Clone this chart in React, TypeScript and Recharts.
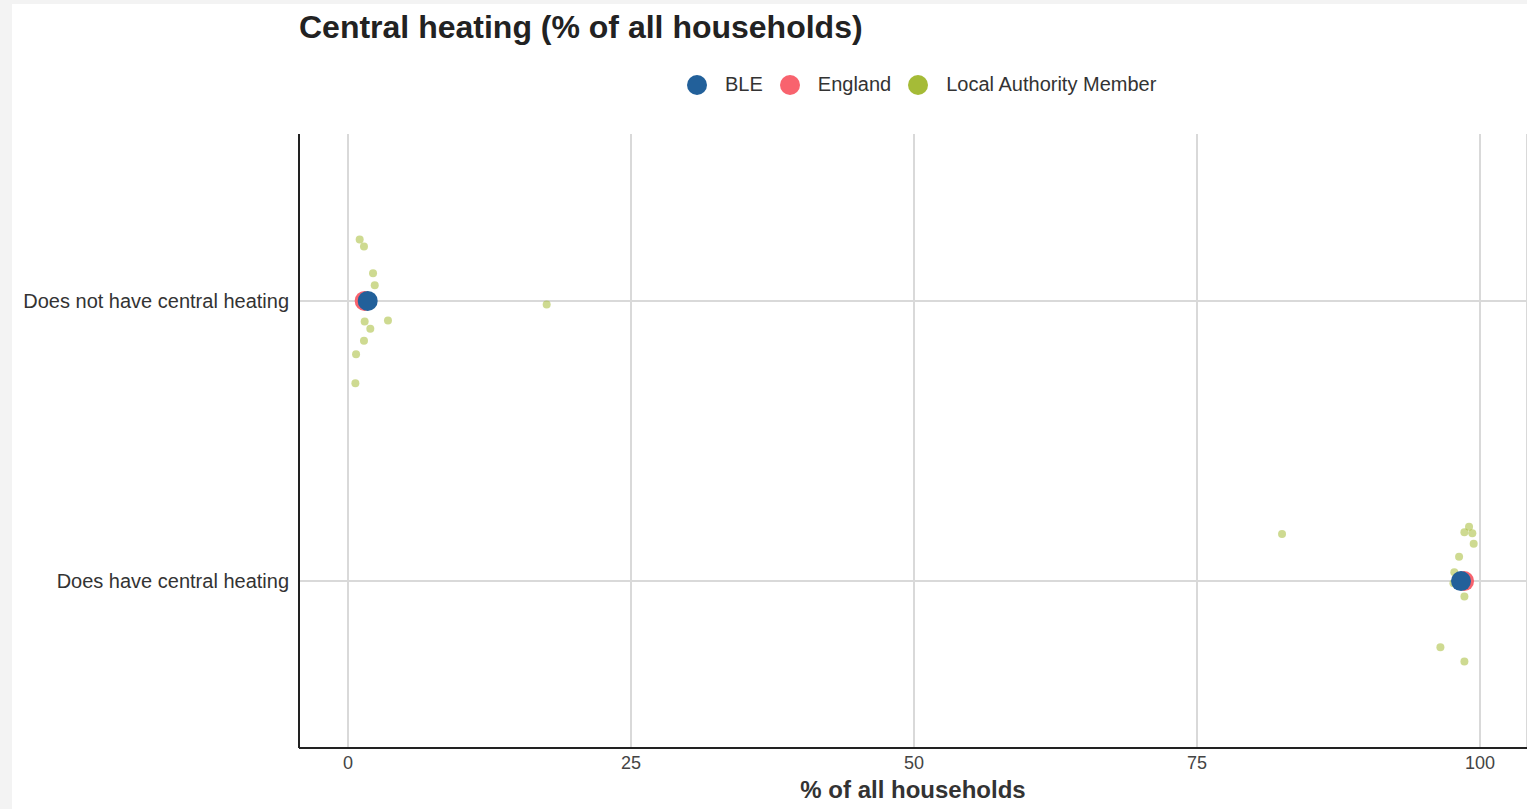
import {
  ScatterChart,
  Scatter,
  XAxis,
  YAxis,
  CartesianGrid,
} from 'recharts'

// y categories, top to bottom
const categories = ['Does not have central heating', 'Does have central heating']
const xTicks = [0, 25, 50, 75, 100]
const yTicks = [0, 1]
const yDomain = [-0.596, 1.596]

// local authority members, % of households (jitter in category units, + = down)
const memberNone = [1.03, 1.41, 2.21, 2.36, 17.55, 1.47, 3.53, 1.97, 1.41, 0.71, 0.65]
const memberNoneJitter = [-0.219, -0.194, -0.099, -0.056, 0.013, 0.073, 0.07, 0.099, 0.142, 0.19, 0.294]
const memberHas = [82.51, 99.03, 98.62, 99.32, 99.44, 98.15, 97.73, 97.65, 98.62, 96.5, 98.62]
const memberHasJitter = [-0.168, -0.194, -0.174, -0.171, -0.133, -0.087, -0.031, 0.008, 0.055, 0.236, 0.287]

const ble = [1.74, 98.32]
const england = [1.47, 98.59]

const series = [
  { name: 'BLE', color: '#22609a' },
  { name: 'England', color: '#f8636e' },
  { name: 'Local Authority Member', color: '#a5bb37' },
]

const FONT = '"Liberation Sans", Arial, sans-serif'

const memberData = [
  ...memberNone.map((v, i) => ({ x: v, y: 0 + memberNoneJitter[i] })),
  ...memberHas.map((v, i) => ({ x: v, y: 1 + memberHasJitter[i] })),
]
const bleData = ble.map((v, i) => ({ x: v, y: i }))
const englandData = england.map((v, i) => ({ x: v, y: i }))

const dot = (r: number, color: string, opacity: number) => (props: any) => (
  <circle cx={props.cx} cy={props.cy} r={r} fill={color} fillOpacity={opacity} />
)

// only draw horizontal grid lines at the two categories (axis is reversed)
const hGrid = (props: any) => {
  const scale = props?.yAxis?.scale
  if (typeof scale === 'function') return yTicks.map((t) => scale(t))
  const off = props?.offset ?? {}
  const top = off.top ?? 130
  const h = off.height ?? 614
  return yTicks.map((t) => top + ((t - yDomain[0]) / (yDomain[1] - yDomain[0])) * h)
}

export default function App() {
  return (
    <div
      style={{
        position: 'absolute',
        left: 0,
        top: 0,
        width: 1527,
        height: 809,
        background: '#f3f3f3',
        fontFamily: FONT,
        overflow: 'hidden',
      }}
    >
      <div style={{ position: 'absolute', left: 12, top: 4, width: 1515, height: 805, background: '#fff' }}>
        <div
          style={{
            position: 'absolute',
            left: 287,
            top: 5,
            fontSize: 32,
            fontWeight: 'bold',
            color: '#222',
            whiteSpace: 'nowrap',
          }}
        >
          Central heating (% of all households)
        </div>
        <div
          style={{
            position: 'absolute',
            left: 675,
            top: 69,
            display: 'flex',
            alignItems: 'center',
            fontSize: 20,
            color: '#333',
            whiteSpace: 'nowrap',
          }}
        >
          {series.map((s) => (
            <div key={s.name} style={{ display: 'flex', alignItems: 'center', marginRight: 17 }}>
              <span
                style={{
                  width: 20,
                  height: 20,
                  borderRadius: 10,
                  background: s.color,
                  display: 'inline-block',
                  marginRight: 18,
                }}
              />
              <span>{s.name}</span>
            </div>
          ))}
        </div>
        <ScatterChart width={1515} height={805} margin={{ top: 130, right: 0, bottom: 0, left: 0 }}>
          <CartesianGrid stroke="#d9d9d9" strokeWidth={2} horizontalCoordinatesGenerator={hGrid} />
          <XAxis
            type="number"
            dataKey="x"
            domain={[-4.33, 104.15]}
            ticks={xTicks}
            allowDataOverflow
            height={61}
            tickLine={false}
            axisLine={{ stroke: '#222', strokeWidth: 2 }}
            tick={{ fill: '#444', fontSize: 18, fontFamily: FONT }}
            label={{
              value: '% of all households',
              position: 'insideBottom',
              offset: 11,
              style: { fill: '#333', fontSize: 24, fontWeight: 'bold', fontFamily: FONT },
            }}
          />
          <YAxis
            type="number"
            dataKey="y"
            reversed
            domain={yDomain}
            ticks={yTicks}
            tickFormatter={(v: number) => categories[v] ?? ''}
            allowDataOverflow
            width={287}
            tickLine={false}
            tickMargin={4}
            axisLine={{ stroke: '#222', strokeWidth: 2 }}
            tick={{ fill: '#333', fontSize: 20, fontFamily: FONT }}
          />
          <Scatter
            name="Local Authority Member"
            data={memberData}
            isAnimationActive={false}
            shape={dot(4, series[2].color, 0.55)}
          />
          <Scatter
            name="England"
            data={englandData}
            isAnimationActive={false}
            shape={dot(10, series[1].color, 1)}
          />
          <Scatter name="BLE" data={bleData} isAnimationActive={false} shape={dot(10, series[0].color, 1)} />
        </ScatterChart>
      </div>
    </div>
  )
}
